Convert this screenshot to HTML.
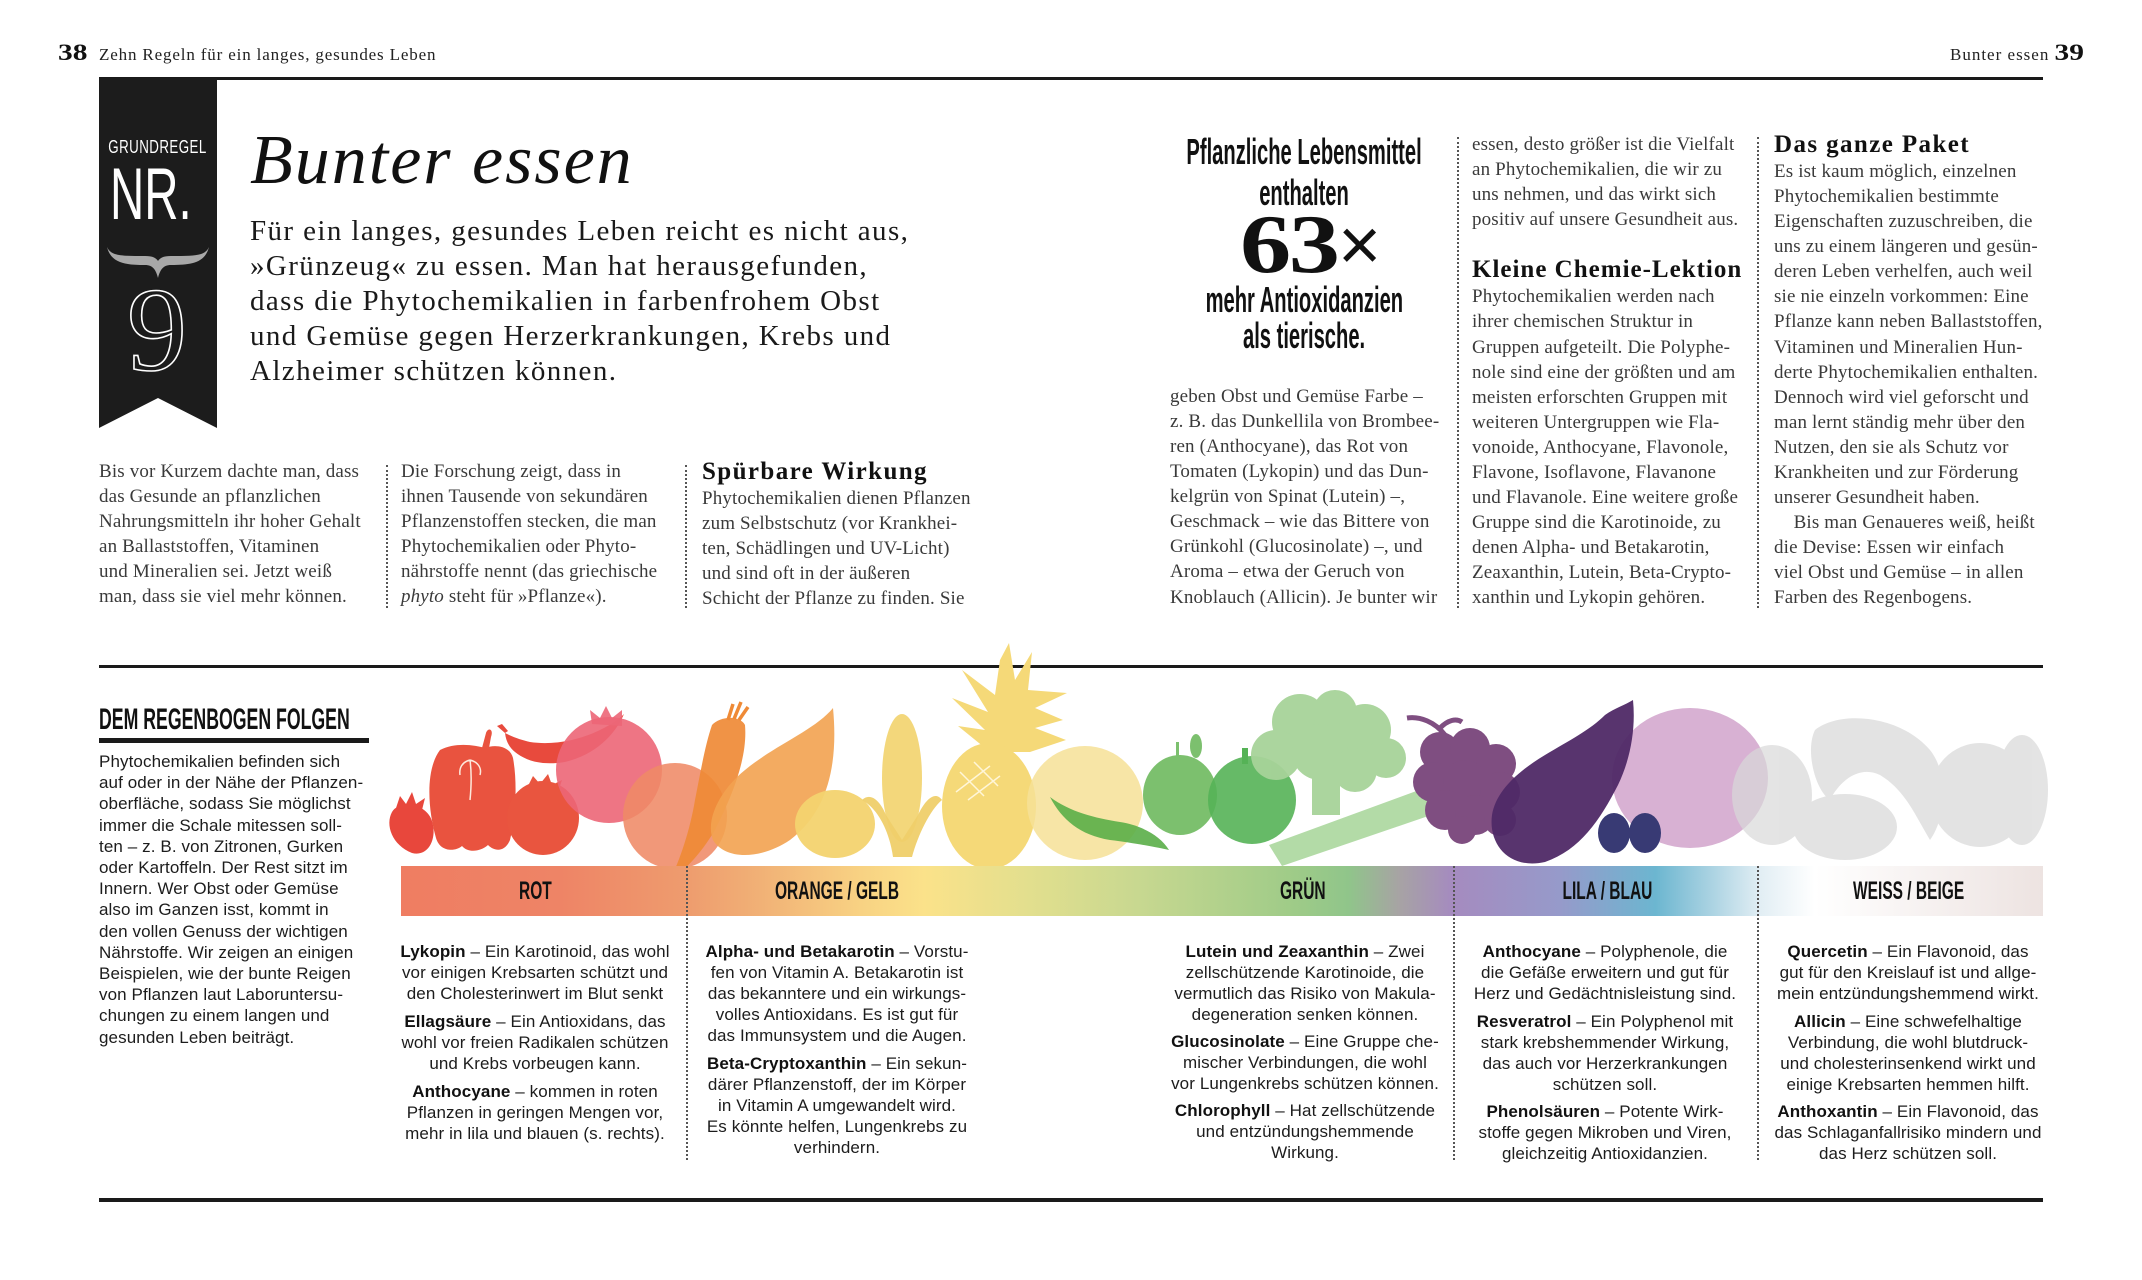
<!DOCTYPE html>
<html><head><meta charset="utf-8">
<style>
*{box-sizing:border-box}
body{margin:0;width:2142px;height:1280px;position:relative;background:#fff;overflow:hidden;font-family:"Liberation Serif",serif}
.a{position:absolute;white-space:nowrap}
.body{font-family:"Liberation Serif",serif;font-size:19px;line-height:25.07px;letter-spacing:.15px;color:#3a3a3a;white-space:nowrap}
.h{font-weight:bold;font-size:25px;letter-spacing:1.4px;color:#111}
.dot{position:absolute;width:0;border-left:2px dotted #555}
.info{position:absolute;font-family:"Liberation Sans",sans-serif;font-size:17px;line-height:21px;letter-spacing:.1px;color:#1c1c1c;text-align:center;white-space:nowrap;width:300px}
.info p{margin:0 0 7px}
.info b{color:#111}
.cs{display:inline-block;transform-origin:center}
.lbl{position:absolute;top:879px;width:400px;text-align:center;font-family:"Liberation Sans",sans-serif;font-weight:bold;font-size:25px;line-height:1;color:#111}
.lbl span{display:inline-block;transform:scaleX(.62);transform-origin:center}
.q{position:absolute;left:1004px;width:600px;text-align:center;font-family:"Liberation Sans",sans-serif;font-weight:bold;font-size:36px;line-height:1;color:#111}
.q span{display:inline-block;transform:scaleX(.56);transform-origin:center}
</style></head>
<body>

<!-- header -->
<div class="a" style="left:58px;top:41px;font-size:23px;line-height:1;font-weight:bold;color:#111"><span style="display:inline-block;transform:scaleX(1.28);transform-origin:left">38</span></div>
<div class="a" style="left:99px;top:46px;font-size:17px;line-height:1;letter-spacing:.85px;color:#222">Zehn Regeln für ein langes, gesundes Leben</div>
<div class="a" style="left:1950px;top:46px;font-size:17px;line-height:1;letter-spacing:1px;color:#222">Bunter essen</div>
<div class="a" style="right:58px;top:41px;font-size:23px;line-height:1;font-weight:bold;color:#111"><span style="display:inline-block;transform:scaleX(1.28);transform-origin:right">39</span></div>

<!-- top rule -->
<div class="a" style="left:99px;top:77px;width:1944px;height:3px;background:#1a1a1a"></div>

<!-- ribbon -->
<svg class="a" style="left:0;top:0" width="2142" height="1280" viewBox="0 0 2142 1280">
  <polygon points="99,78 217,78 217,428 158,398 99,428" fill="#1c1c1c"/>
  <path d="M107 247 C111 263,125 265,145 265 C153 265,156 270,158 278 C160 270,163 265,171 265 C191 265,205 263,209 247 C205 256,195 256,171 256 C163 256,160 258,158 261 C156 258,153 256,145 256 C121 256,111 256,107 247 Z" fill="#a8a8a8"/>
</svg>
<div class="a" style="left:58px;width:200px;top:138px;text-align:center;font-family:'Liberation Sans',sans-serif;font-size:18px;line-height:1;color:#fff;letter-spacing:.6px"><span class="cs" style="transform:scaleX(.74)">GRUNDREGEL</span></div>
<div class="a" style="left:51px;width:200px;top:158px;text-align:center;font-family:'Liberation Sans',sans-serif;font-size:73px;line-height:1;color:#fff"><span class="cs" style="transform:scaleX(.65)">NR.</span></div>
<div class="a" style="left:57px;width:200px;top:270px;text-align:center;font-family:'Liberation Serif',serif;font-size:120px;line-height:1;color:transparent;-webkit-text-stroke:1.6px #fff">9</div>

<!-- title -->
<div class="a" style="left:250px;top:126px;font-size:70px;line-height:1;font-style:italic;letter-spacing:2px;color:#111">Bunter essen</div>
<div class="a" style="left:250px;top:214px;font-size:29px;line-height:35px;letter-spacing:1.4px;color:#1a1a1a">Für ein langes, gesundes Leben reicht es nicht aus,<br>»Grünzeug« zu essen. Man hat herausgefunden,<br>dass die Phytochemikalien in farbenfrohem Obst<br>und Gemüse gegen Herzerkrankungen, Krebs und<br>Alzheimer schützen können.</div>

<!-- top body columns -->
<div class="a body" style="left:99px;top:459px">Bis vor Kurzem dachte man, dass<br>das Gesunde an pflanzlichen<br>Nahrungsmitteln ihr hoher Gehalt<br>an Ballaststoffen, Vitaminen<br>und Mineralien sei. Jetzt weiß<br>man, dass sie viel mehr können.</div>
<div class="dot" style="left:386px;top:465px;height:143px"></div>
<div class="a body" style="left:401px;top:459px">Die Forschung zeigt, dass in<br>ihnen Tausende von sekundären<br>Pflanzenstoffen stecken, die man<br>Phytochemikalien oder Phyto-<br>nährstoffe nennt (das griechische<br><i>phyto</i> steht für »Pflanze«).</div>
<div class="dot" style="left:685px;top:465px;height:143px"></div>
<div class="a body" style="left:702px;top:459px"><span class="h">Spürbare Wirkung</span><br>Phytochemikalien dienen Pflanzen<br>zum Selbstschutz (vor Krankhei-<br>ten, Schädlingen und UV-Licht)<br>und sind oft in der äußeren<br>Schicht der Pflanze zu finden. Sie</div>

<!-- quote -->
<div class="q" style="top:134px"><span>Pflanzliche Lebensmittel</span></div>
<div class="q" style="top:175px"><span>enthalten</span></div>
<div class="a" style="left:1240px;top:203px;line-height:1;color:#111;font-family:'Liberation Serif',serif;font-weight:bold;font-size:84px;letter-spacing:-2px"><span style="display:inline-block;transform:scaleX(1.22);transform-origin:left">63</span></div>
<div class="a" style="left:1338px;top:208px;line-height:1;color:#111;font-family:'Liberation Sans',sans-serif;font-size:74px">×</div>
<div class="q" style="top:282px"><span>mehr Antioxidanzien</span></div>
<div class="q" style="top:318px"><span>als tierische.</span></div>

<div class="a body" style="left:1170px;top:384px">geben Obst und Gemüse Farbe –<br>z. B. das Dunkellila von Brombee-<br>ren (Anthocyane), das Rot von<br>Tomaten (Lykopin) und das Dun-<br>kelgrün von Spinat (Lutein) –,<br>Geschmack – wie das Bittere von<br>Grünkohl (Glucosinolate) –, und<br>Aroma – etwa der Geruch von<br>Knoblauch (Allicin). Je bunter wir</div>
<div class="dot" style="left:1457px;top:137px;height:471px"></div>
<div class="a body" style="left:1472px;top:132px">essen, desto größer ist die Vielfalt<br>an Phytochemikalien, die wir zu<br>uns nehmen, und das wirkt sich<br>positiv auf unsere Gesundheit aus.<br>&nbsp;<br><span class="h" style="letter-spacing:1px">Kleine Chemie-Lektion</span><br>Phytochemikalien werden nach<br>ihrer chemischen Struktur in<br>Gruppen aufgeteilt. Die Polyphe-<br>nole sind eine der größten und am<br>meisten erforschten Gruppen mit<br>weiteren Untergruppen wie Fla-<br>vonoide, Anthocyane, Flavonole,<br>Flavone, Isoflavone, Flavanone<br>und Flavanole. Eine weitere große<br>Gruppe sind die Karotinoide, zu<br>denen Alpha- und Betakarotin,<br>Zeaxanthin, Lutein, Beta-Crypto-<br>xanthin und Lykopin gehören.</div>
<div class="dot" style="left:1757px;top:137px;height:471px"></div>
<div class="a body" style="left:1774px;top:132px"><span class="h">Das ganze Paket</span><br>Es ist kaum möglich, einzelnen<br>Phytochemikalien bestimmte<br>Eigenschaften zuzuschreiben, die<br>uns zu einem längeren und gesün-<br>deren Leben verhelfen, auch weil<br>sie nie einzeln vorkommen: Eine<br>Pflanze kann neben Ballaststoffen,<br>Vitaminen und Mineralien Hun-<br>derte Phytochemikalien enthalten.<br>Dennoch wird viel geforscht und<br>man lernt ständig mehr über den<br>Nutzen, den sie als Schutz vor<br>Krankheiten und zur Förderung<br>unserer Gesundheit haben.<br>&nbsp;&nbsp;&nbsp;&nbsp;Bis man Genaueres weiß, heißt<br>die Devise: Essen wir einfach<br>viel Obst und Gemüse – in allen<br>Farben des Regenbogens.</div>

<!-- infographic rule -->
<div class="a" style="left:99px;top:665px;width:1944px;height:3px;background:#1a1a1a"></div>

<!-- illustrations -->
<svg class="a" style="left:0;top:0" width="2142" height="1280" viewBox="0 0 2142 1280">
  <!-- red -->
  <path d="M392 812 C385 825,392 845,412 853 C428 857,436 840,433 825 C431 812,420 805,408 805 C400 805,395 807,392 812 Z" fill="#E8473C"/>
  <polygon points="396,808 400,796 406,804 412,792 416,804 425,798 422,810" fill="#E8473C"/>
  <path d="M440 750 C455 742,475 745,485 748 C495 744,510 746,513 758 C518 785,515 820,510 840 C505 852,495 852,488 845 C480 852,468 853,462 846 C455 852,440 852,436 838 C428 810,425 770,440 750 Z" fill="#E9533F"/>
  <path d="M482 748 L486 733 C488 727,494 729,491 737 L489 748 Z" fill="#E9533F"/>
  <path d="M470 760 C472 775,471 790,470 800 M470 760 C478 762,482 768,480 775 M470 760 C462 762,459 768,460 775" stroke="#fde9dc" stroke-width="1.5" fill="none"/>
  <ellipse cx="543" cy="818" rx="36" ry="37" fill="#E9553F"/>
  <polygon points="528,786 533,776 540,784 548,774 552,785 562,780 558,792 530,792" fill="#E9553F"/>
  <path d="M505 733 C515 738,522 740,530 742 C550 745,575 742,600 730 C612 724,618 720,624 714 C615 735,595 755,565 762 C540 766,525 760,515 752 C510 748,506 742,505 733 Z" fill="#E84A3D"/>
  <path d="M505 733 L497 726 L502 724 L508 731 Z" fill="#E84A3D"/>
  <circle cx="609" cy="770" r="53" fill="#EC6677" opacity="0.9"/>
  <polygon points="592,724 590,710 600,718 606,706 612,718 622,710 622,726" fill="#EC6677" opacity="0.9"/>
  <!-- orange -->
  <ellipse cx="675" cy="816" rx="52" ry="53" fill="#EF8A67" opacity="0.88"/>
  <path d="M712 725 C720 716,740 715,745 725 C748 760,730 800,715 830 C700 855,685 870,670 880 C680 860,690 830,695 800 C700 775,705 745,712 725 Z" fill="#EF8A36" opacity="0.92"/>
  <path d="M728 720 L733 704 M734 719 L741 702 M739 720 L748 707" stroke="#EF8A36" stroke-width="3.5" fill="none"/>
  <path d="M833 708 C838 760,830 810,790 840 C760 860,725 860,713 840 C705 820,720 790,745 770 C775 745,815 730,833 708 Z" fill="#F2A250" opacity="0.9"/>
  <!-- yellow -->
  <ellipse cx="835" cy="824" rx="40" ry="34" fill="#F3D36F" opacity="0.95"/>
  <ellipse cx="902" cy="778" rx="20" ry="64" fill="#F2D574" opacity="0.95"/>
  <path d="M862 800 C880 810,890 835,893 857 L912 857 C918 835,930 810,942 800 C935 790,925 800,918 815 L902 840 L886 815 C880 800,870 792,862 800 Z" fill="#EFCF6A" opacity="0.95"/>
  <path d="M990 752 L958 726 L985 730 L952 698 L988 712 L962 670 L995 695 L1000 660 L1009 643 L1015 680 L1032 652 L1028 690 L1067 693 L1035 708 L1063 720 L1035 728 L1066 740 L1030 752 Z" fill="#F5D978"/>
  <ellipse cx="989" cy="806" rx="47" ry="63" fill="#F5D978"/>
  <path d="M960 772 L984 796 M974 762 L998 786 M956 792 L990 766 M968 800 L1000 776" stroke="#fff6d8" stroke-width="1.5"/>
  <ellipse cx="1085" cy="803" rx="58" ry="57" fill="#F6E097" opacity="0.85"/>
  <!-- green -->
  <path d="M1050 797 C1062 820,1080 835,1110 840 C1135 843,1160 848,1169 850 C1160 835,1140 825,1120 822 C1095 818,1070 812,1050 797 Z" fill="#5AAE48" opacity="0.9"/>
  <ellipse cx="1180" cy="795" rx="37" ry="40" fill="#7CC06E"/>
  <ellipse cx="1196" cy="746" rx="6" ry="12" fill="#7CC06E"/>
  <rect x="1176" y="742" width="3" height="16" fill="#7CC06E"/>
  <ellipse cx="1252" cy="800" rx="44" ry="44" fill="#55B256" opacity="0.9"/>
  <rect x="1242" y="748" width="6" height="16" fill="#55B256"/>
  <g fill="#A7D399" opacity="0.95">
    <circle cx="1300" cy="722" r="28"/><circle cx="1335" cy="712" r="22"/><circle cx="1365" cy="730" r="26"/>
    <circle cx="1386" cy="758" r="20"/><circle cx="1276" cy="755" r="25"/><circle cx="1320" cy="752" r="28"/>
    <circle cx="1355" cy="770" r="22"/><rect x="1312" y="770" width="28" height="45"/>
  </g>
  <polygon points="1269,845 1282,866 1440,812 1430,786" fill="#A9D69B" opacity="0.88"/>
  <!-- purple -->
  <ellipse cx="1690" cy="778" rx="78" ry="70" fill="#D8B1D3"/>
  <g fill="#7F4E81">
    <circle cx="1440" cy="752" r="20"/><circle cx="1470" cy="748" r="20"/><circle cx="1496" cy="764" r="20"/>
    <circle cx="1433" cy="782" r="20"/><circle cx="1465" cy="782" r="22"/><circle cx="1500" cy="792" r="20"/>
    <circle cx="1445" cy="810" r="20"/><circle cx="1475" cy="815" r="20"/><circle cx="1500" cy="820" r="16"/>
    <circle cx="1462" cy="830" r="14"/>
  </g>
  <path d="M1407 718 C1420 716,1435 722,1445 735 M1440 728 C1448 720,1456 718,1462 722" stroke="#7F4E81" stroke-width="5" fill="none"/>
  <path d="M1633 700 C1636 730,1630 760,1618 785 C1600 820,1580 850,1545 862 C1510 870,1488 845,1492 815 C1496 790,1520 770,1545 755 C1570 740,1590 730,1605 715 C1615 708,1625 705,1633 700 Z" fill="#4F2966" opacity="0.95"/>
  <ellipse cx="1614" cy="833" rx="16" ry="20" fill="#383A74"/>
  <ellipse cx="1645" cy="833" rx="16" ry="20" fill="#383A74"/>
  <!-- white -->
  <g fill="#D8D8D8" opacity="0.7">
    <ellipse cx="1772" cy="795" rx="40" ry="50"/>
    <ellipse cx="1845" cy="827" rx="52" ry="33"/>
    <path d="M1815 730 C1840 710,1900 715,1930 750 C1950 775,1945 820,1930 840 C1915 815,1905 790,1880 775 C1860 765,1840 780,1830 800 C1815 790,1805 750,1815 730 Z"/>
    <ellipse cx="1980" cy="795" rx="50" ry="52"/>
    <ellipse cx="2022" cy="790" rx="26" ry="55"/>
  </g>
</svg>

<!-- left infographic text -->
<div class="a" style="left:99px;top:705px;font-family:'Liberation Sans',sans-serif;font-weight:bold;font-size:30px;line-height:1;color:#111"><span style="display:inline-block;transform:scaleX(.59);transform-origin:left">DEM REGENBOGEN FOLGEN</span></div>
<div class="a" style="left:99px;top:738px;width:270px;height:5px;background:#1a1a1a"></div>
<div class="a" style="left:99px;top:751px;font-family:'Liberation Sans',sans-serif;font-size:17px;line-height:21.2px;letter-spacing:.1px;color:#1c1c1c">Phytochemikalien befinden sich<br>auf oder in der Nähe der Pflanzen-<br>oberfläche, sodass Sie möglichst<br>immer die Schale mitessen soll-<br>ten – z. B. von Zitronen, Gurken<br>oder Kartoffeln. Der Rest sitzt im<br>Innern. Wer Obst oder Gemüse<br>also im Ganzen isst, kommt in<br>den vollen Genuss der wichtigen<br>Nährstoffe. Wir zeigen an einigen<br>Beispielen, wie der bunte Reigen<br>von Pflanzen laut Laboruntersu-<br>chungen zu einem langen und<br>gesunden Leben beiträgt.</div>

<!-- bar -->
<div class="a" style="left:401px;top:866px;width:1642px;height:50px;background:linear-gradient(to right,#EF7D62 0%,#EE8466 9.7%,#EE9C6E 17.4%,#F1B176 21.9%,#F8D283 28%,#FBE28A 31.9%,#E2DF8E 38.3%,#C8D890 44.8%,#9ECB88 54.5%,#90C58A 57.7%,#A7A3A4 60.8%,#A58BBF 64%,#969ACA 70.6%,#6CB6D0 76.4%,#A7D1E1 79.6%,#E2EEF4 82.8%,#FFFFFF 86.1%,#EDE3E1 100%)"></div>
<div class="lbl" style="left:335px"><span>ROT</span></div>
<div class="lbl" style="left:637px"><span>ORANGE / GELB</span></div>
<div class="lbl" style="left:1103px"><span>GRÜN</span></div>
<div class="lbl" style="left:1407px"><span>LILA / BLAU</span></div>
<div class="lbl" style="left:1709px"><span>WEISS / BEIGE</span></div>

<div class="dot" style="left:686px;top:866px;height:294px"></div>
<div class="dot" style="left:1453px;top:866px;height:294px"></div>
<div class="dot" style="left:1757px;top:866px;height:294px"></div>

<!-- info columns -->
<div class="info" style="left:385px;top:941px">
<p><b>Lykopin</b> – Ein Karotinoid, das wohl<br>vor einigen Krebsarten schützt und<br>den Cholesterinwert im Blut senkt</p>
<p><b>Ellagsäure</b> – Ein Antioxidans, das<br>wohl vor freien Radikalen schützen<br>und Krebs vorbeugen kann.</p>
<p><b>Anthocyane</b> – kommen in roten<br>Pflanzen in geringen Mengen vor,<br>mehr in lila und blauen (s. rechts).</p>
</div>
<div class="info" style="left:687px;top:941px">
<p><b>Alpha- und Betakarotin</b> – Vorstu-<br>fen von Vitamin A. Betakarotin ist<br>das bekanntere und ein wirkungs-<br>volles Antioxidans. Es ist gut für<br>das Immunsystem und die Augen.</p>
<p><b>Beta-Cryptoxanthin</b> – Ein sekun-<br>därer Pflanzenstoff, der im Körper<br>in Vitamin A umgewandelt wird.<br>Es könnte helfen, Lungenkrebs zu<br>verhindern.</p>
</div>
<div class="info" style="left:1155px;top:941px">
<p style="margin-bottom:6px"><b>Lutein und Zeaxanthin</b> – Zwei<br>zellschützende Karotinoide, die<br>vermutlich das Risiko von Makula-<br>degeneration senken können.</p>
<p style="margin-bottom:6px"><b>Glucosinolate</b> – Eine Gruppe che-<br>mischer Verbindungen, die wohl<br>vor Lungenkrebs schützen können.</p>
<p><b>Chlorophyll</b> – Hat zellschützende<br>und entzündungshemmende<br>Wirkung.</p>
</div>
<div class="info" style="left:1455px;top:941px">
<p><b>Anthocyane</b> – Polyphenole, die<br>die Gefäße erweitern und gut für<br>Herz und Gedächtnisleistung sind.</p>
<p style="margin-bottom:6px"><b>Resveratrol</b> – Ein Polyphenol mit<br>stark krebshemmender Wirkung,<br>das auch vor Herzerkrankungen<br>schützen soll.</p>
<p><b>Phenolsäuren</b> – Potente Wirk-<br>stoffe gegen Mikroben und Viren,<br>gleichzeitig Antioxidanzien.</p>
</div>
<div class="info" style="left:1758px;top:941px">
<p><b>Quercetin</b> – Ein Flavonoid, das<br>gut für den Kreislauf ist und allge-<br>mein entzündungshemmend wirkt.</p>
<p style="margin-bottom:6px"><b>Allicin</b> – Eine schwefelhaltige<br>Verbindung, die wohl blutdruck-<br>und cholesterinsenkend wirkt und<br>einige Krebsarten hemmen hilft.</p>
<p><b>Anthoxantin</b> – Ein Flavonoid, das<br>das Schlaganfallrisiko mindern und<br>das Herz schützen soll.</p>
</div>

<!-- bottom rule -->
<div class="a" style="left:99px;top:1198px;width:1944px;height:4px;background:#1a1a1a"></div>

</body></html>
